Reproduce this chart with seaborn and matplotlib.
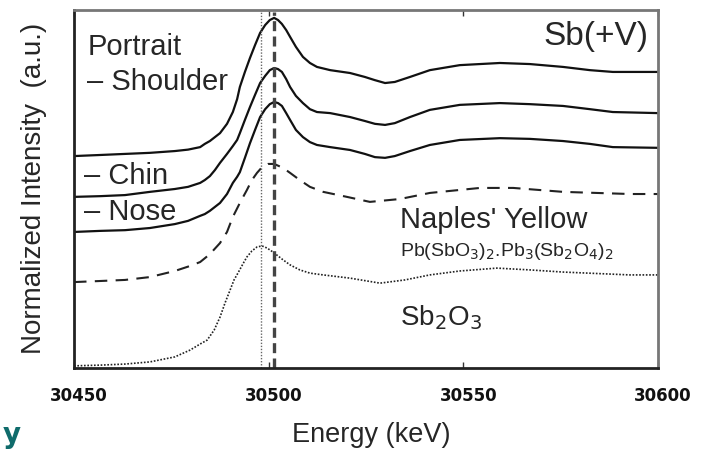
import numpy as np
import pandas as pd
import matplotlib
matplotlib.use("Agg")
import matplotlib.pyplot as plt
import matplotlib.transforms as mtransforms
import seaborn as sns

# ---- data ----
# energy grid shared by the three portrait spectra
solid_e = [30450, 30456.7, 30463.1, 30469.5, 30475.9, 30479.3, 30482.4, 30483.6,
           30484.9, 30486.2, 30487.5,
           30489.3, 30490.8, 30491.9, 30492.6, 30493.9, 30495.2, 30496.5, 30497.8,
           30499.1, 30500.3, 30501.4, 30502.4, 30503.4, 30504.5, 30505.5, 30507.0,
           30508.8, 30510.6, 30512.4, 30515.8, 30520.9, 30524.7, 30527.3, 30529.9,
           30532.4, 30536.3, 30541.4, 30549.1, 30559.4, 30567.1, 30575.6, 30582.5,
           30588.4, 30600]
shoulder_i = [5.92, 5.95, 5.98, 6.01, 6.06, 6.10, 6.17, 6.26, 6.34, 6.45, 6.56,
              6.82, 7.15, 7.51, 7.85,
              8.27, 8.66, 9.02, 9.36, 9.58, 9.72, 9.78, 9.72, 9.61, 9.44, 9.25, 8.97,
              8.69, 8.52, 8.41, 8.32, 8.24, 8.13, 8.04, 7.96, 7.99, 8.13, 8.32, 8.46,
              8.52, 8.49, 8.41, 8.32, 8.27, 8.27]
chin_i = [4.78, 4.80, 4.83, 4.92, 5.00, 5.06, 5.17, 5.25, 5.36, 5.53, 5.73,
          5.98, 6.20, 6.37, 6.56,
          6.93, 7.29, 7.63, 7.96, 8.16, 8.32, 8.38, 8.35, 8.27, 8.07, 7.85, 7.60,
          7.40, 7.23, 7.15, 7.12, 7.01, 6.90, 6.82, 6.79, 6.84, 7.01, 7.21, 7.35,
          7.40, 7.37, 7.32, 7.23, 7.15, 7.12]
nose_i = [3.80, 3.83, 3.85, 3.91, 4.02, 4.11, 4.25, 4.30, 4.39, 4.50, 4.61,
          4.86, 5.17, 5.34, 5.47,
          5.87, 6.28, 6.65, 7.01, 7.23, 7.37, 7.43, 7.40, 7.32, 7.12, 6.93, 6.65,
          6.45, 6.31, 6.23, 6.17, 6.09, 5.98, 5.89, 5.87, 5.92, 6.06, 6.23, 6.37,
          6.42, 6.40, 6.34, 6.26, 6.17, 6.15]

naples_e = [30450, 30456.7, 30463.1, 30469.5, 30475.9, 30479.8, 30482.4, 30484.9,
            30487.5, 30489.3, 30490.8, 30492.6, 30494.4, 30495.7, 30497.0, 30498.3,
            30499.8, 30501.4, 30503.7, 30505.5, 30508.0, 30510.6, 30514.0, 30520.1,
            30526.0, 30533.7, 30541.4, 30554.3, 30562.8, 30575.6, 30592.8, 30600]
naples_i = [2.40, 2.43, 2.46, 2.54, 2.71, 2.85, 2.96, 3.18,
            3.49, 3.80, 4.22, 4.61, 4.97, 5.25, 5.45, 5.61,
            5.70, 5.70, 5.59, 5.45, 5.25, 5.06, 4.92, 4.78,
            4.64, 4.72, 4.89, 5.03, 5.03, 4.92, 4.86, 4.86]

sb2o3_e = [30450, 30456.7, 30463.1, 30469.5, 30475.9, 30479.8, 30482.4, 30484.2,
           30486.0, 30487.5, 30488.8, 30490.1, 30491.1, 30492.1, 30493.4, 30494.4,
           30495.7, 30497.0, 30498.3, 30499.6, 30501.1, 30502.4, 30503.7, 30505.5,
           30508.0, 30510.6, 30514.0, 30520.9, 30528.6, 30535.0, 30541.4, 30549.1,
           30558.6, 30567.1, 30575.6, 30592.8, 30600]
sb2o3_i = [0.06, 0.08, 0.11, 0.17, 0.31, 0.50, 0.67, 0.78,
           1.06, 1.42, 1.82, 2.18, 2.46, 2.65, 2.91, 3.10,
           3.27, 3.38, 3.41, 3.35, 3.24, 3.13, 3.02, 2.88,
           2.74, 2.65, 2.60, 2.51, 2.37, 2.46, 2.60, 2.71,
           2.79, 2.74, 2.68, 2.60, 2.60]

ref_sample_e = 30501.4   # dashed reference line
ref_sb3_e = 30498.1      # dotted reference line
x_ticks = [30450, 30500, 30550, 30600]

# ---- figure ----
sns.set_style("white")
plt.rcParams['font.family'] = ['Liberation Sans', 'DejaVu Sans']
plt.rcParams['lines.solid_joinstyle'] = 'round'
plt.rcParams['lines.dash_joinstyle'] = 'round'

fig = plt.figure(figsize=(7.05, 4.53), dpi=100)
ax = fig.add_axes([74/705, 85/453, 584/705, 358/453])

txt_col = "#262626"
for series in [shoulder_i, chin_i, nose_i]:
    sns.lineplot(x=solid_e, y=series, ax=ax, color="#111111", lw=1.6, sort=False)
sns.lineplot(x=naples_e, y=naples_i, ax=ax, color="#222222", lw=1.5, sort=False,
             linestyle=(0, (6, 4)))
sns.lineplot(x=sb2o3_e, y=sb2o3_i, ax=ax, color="#222222", lw=1.2, sort=False,
             linestyle=(0, (1, 1)))

ax.axvline(ref_sample_e, color="#444444", lw=2.4, linestyle=(0, (3, 1.6)), ymax=0.995)
ax.axvline(ref_sb3_e, color="#666666", lw=1.0, linestyle=(0, (1, 1.2)))

ax.set_xlim(30450, 30600)
ax.set_ylim(0, 10)
ax.set_yticks([])
ax.set_xticks(x_ticks)
ax.set_xticklabels([str(t) for t in x_ticks], fontfamily="DejaVu Sans",
                   fontweight="bold", fontsize=12, color="#111111")
ax.tick_params(axis="x", direction="in", length=4, width=1, color="#333333",
               top=True, bottom=True, pad=14)
shift = mtransforms.ScaledTranslation(5/100, 0, fig.dpi_scale_trans)
for lab in ax.get_xticklabels():
    lab.set_transform(lab.get_transform() + shift)

for s in ["left", "bottom"]:
    ax.spines[s].set_color("#222222")
    ax.spines[s].set_linewidth(2.0)
for s in ["top", "right"]:
    ax.spines[s].set_color("#777777")
    ax.spines[s].set_linewidth(2.0)

ax.set_xlabel("Energy (keV)", fontsize=19.5, color=txt_col)
ax.xaxis.label.set_va("center")
ax.xaxis.set_label_coords((371 - 74) / 584, (368 - 435) / 358)
ax.set_ylabel("Normalized Intensity  (a.u.)", fontsize=20, color=txt_col)
ax.yaxis.set_label_coords(-0.046, 0.503)

def axfrac(px, py):
    return (px - 74) / 584, (368 - py) / 358

kw = dict(transform=ax.transAxes, color=txt_col, va="center")
ax.text(*axfrac(88, 47), "Portrait", fontsize=21, ha="left", **kw)
ax.text(*axfrac(87, 82), "– Shoulder", fontsize=21, ha="left", **kw)
ax.text(*axfrac(84, 176), "– Chin", fontsize=21, ha="left", **kw)
ax.text(*axfrac(84, 212), "– Nose", fontsize=21, ha="left", **kw)
ax.text(*axfrac(648, 37), "Sb(+V)", fontsize=24, ha="right", **kw)
ax.text(*axfrac(400, 220), "Naples' Yellow", fontsize=21, ha="left", **kw)
ax.text(*axfrac(400, 252), r"Pb(SbO$_3$)$_2$.Pb$_3$(Sb$_2$O$_4$)$_2$",
        fontsize=14, ha="left", **kw)
ax.text(*axfrac(400, 318), r"Sb$_2$O$_3$", fontsize=20, ha="left", **kw)

fig.text(3 / 705, (453 - 443) / 453, "y", fontsize=20, fontweight="bold",
         color="#0f6b6b", ha="left", va="baseline", family="DejaVu Sans")

fig.savefig("out.png", dpi=100)
